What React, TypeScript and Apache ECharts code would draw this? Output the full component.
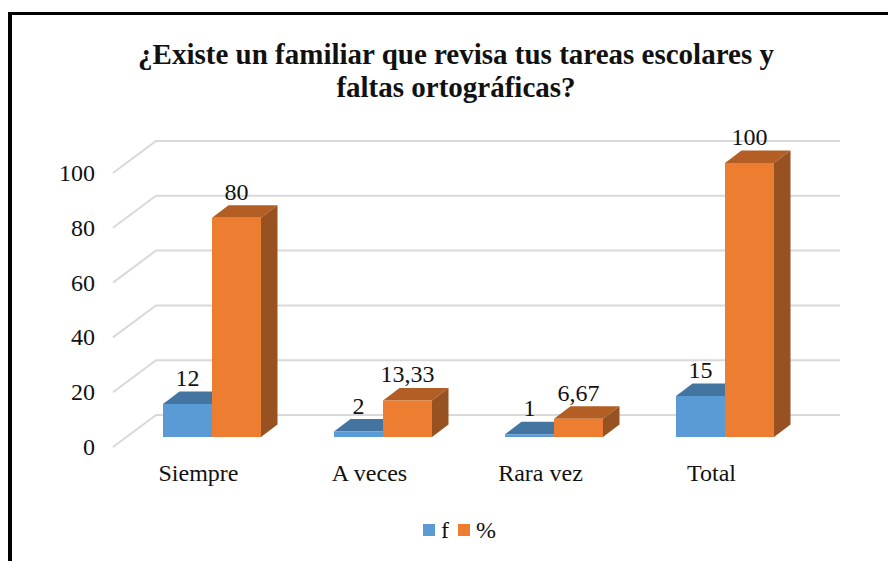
import React, { useEffect, useRef } from "react";
import * as echarts from "echarts";

const categories = ["Siempre", "A veces", "Rara vez", "Total"];
const fValues = [12, 2, 1, 15];
const pctValues = [80, 13.33, 6.67, 100];
const gridTicks = [0, 20, 40, 60, 80, 100];
const titleText = "¿Existe un familiar que revisa tus tareas escolares y\nfaltas ortográficas?";

const FONT = "'Liberation Serif', 'Times New Roman', serif";
const TEXT = "#111111";
const BAR_W = 49;
const DX = 16.5;
const DY = 12.5;
const SHIFT_X = 13.5;
const SHIFT_Y = 10;

const fmt = (v: number) => String(v).replace(".", ",");

function barRenderer(side: -1 | 1, front: string, top: string, right: string) {
  return (params: any, api: any) => {
    const cat = api.value(0);
    const val = api.value(1);
    const c = api.coord([cat, val]);
    const c0 = api.coord([cat, 0]);
    const x0 = c[0] + SHIFT_X + (side < 0 ? -BAR_W : 0);
    const x1 = x0 + BAR_W;
    const y = c[1] - SHIFT_Y;
    const yb = c0[1] - SHIFT_Y;
    return {
      type: "group",
      children: [
        {
          type: "polygon",
          shape: { points: [[x0, y], [x1, y], [x1 + DX, y - DY], [x0 + DX, y - DY]] },
          style: { fill: top },
        },
        {
          type: "polygon",
          shape: { points: [[x1, y], [x1 + DX, y - DY], [x1 + DX, yb - DY], [x1, yb]] },
          style: { fill: right },
        },
        {
          type: "rect",
          shape: { x: x0, y, width: BAR_W, height: yb - y },
          style: { fill: front },
        },
        {
          type: "text",
          style: {
            x: (x0 + x1) / 2,
            y: y - 26,
            text: fmt(val),
            fill: TEXT,
            font: `24px ${FONT}`,
            align: "center",
            verticalAlign: "middle",
          },
        },
      ],
    };
  };
}

export default function App() {
  const ref = useRef<HTMLDivElement>(null);
  useEffect(() => {
    const chart = echarts.init(ref.current!, null, { renderer: "svg" });
    chart.setOption({
      animation: false,
      backgroundColor: "#ffffff",
      title: {
        text: titleText,
        left: 451,
        top: 32,
        textAlign: "center",
        textStyle: { fontFamily: FONT, fontSize: 29, fontWeight: "bold", color: TEXT, lineHeight: 33 },
      },
      grid: { left: 113, width: 684, top: 173, height: 274 },
      xAxis: {
        type: "category",
        data: categories,
        axisLine: { show: false },
        axisTick: { show: false },
        axisLabel: { fontFamily: FONT, fontSize: 24, color: TEXT, margin: 14 },
      },
      yAxis: {
        type: "value",
        min: 0,
        max: 100,
        interval: 20,
        splitLine: { show: false },
        axisLine: { show: false },
        axisTick: { show: false },
        axisLabel: { fontFamily: FONT, fontSize: 24, color: TEXT, margin: 18, padding: [0, 0, 2, 0] },
      },
      legend: {
        data: ["f", "%"],
        left: 418,
        top: 513,
        icon: "rect",
        itemWidth: 12,
        itemHeight: 12,
        itemGap: 9,
        textStyle: { fontFamily: FONT, fontSize: 24, color: TEXT, padding: [0, 0, 0, 1] },
      },
      graphic: [
        { type: "rect", shape: { x: 8, y: 12, width: 880, height: 3 }, style: { fill: "#000000" } },
        { type: "rect", shape: { x: 8, y: 12, width: 4, height: 549 }, style: { fill: "#000000" } },
      ],
      series: [
        {
          type: "custom",
          name: "grid",
          coordinateSystem: "cartesian2d",
          data: gridTicks.map((v) => [0, v]),
          silent: true,
          z: 1,
          renderItem: (params: any, api: any) => {
            const c = api.coord([0, api.value(1)]);
            const xStart = params.coordSys.x;
            const xEnd = xStart + params.coordSys.width;
            const back = 43;
            return {
              type: "polyline",
              shape: { points: [[xStart, c[1]], [xStart + back, c[1] - 32], [xEnd + back, c[1] - 32]] },
              style: { stroke: "#D9D9D9", lineWidth: 2, fill: "none" },
            };
          },
        },
        {
          type: "custom",
          name: "f",
          coordinateSystem: "cartesian2d",
          data: fValues.map((v, i) => [i, v]),
          itemStyle: { color: "#5B9BD5" },
          z: 2,
          renderItem: barRenderer(-1, "#5B9BD5", "#4475A1", "#3E6E99"),
        },
        {
          type: "custom",
          name: "%",
          coordinateSystem: "cartesian2d",
          data: pctValues.map((v, i) => [i, v]),
          itemStyle: { color: "#ED7D31" },
          z: 3,
          renderItem: barRenderer(1, "#ED7D31", "#B35E25", "#985120"),
        },
      ],
    });
    return () => chart.dispose();
  }, []);
  return (
    <div
      ref={ref}
      style={{ position: "fixed", left: 0, top: 0, width: 888, height: 561 }}
    />
  );
}
